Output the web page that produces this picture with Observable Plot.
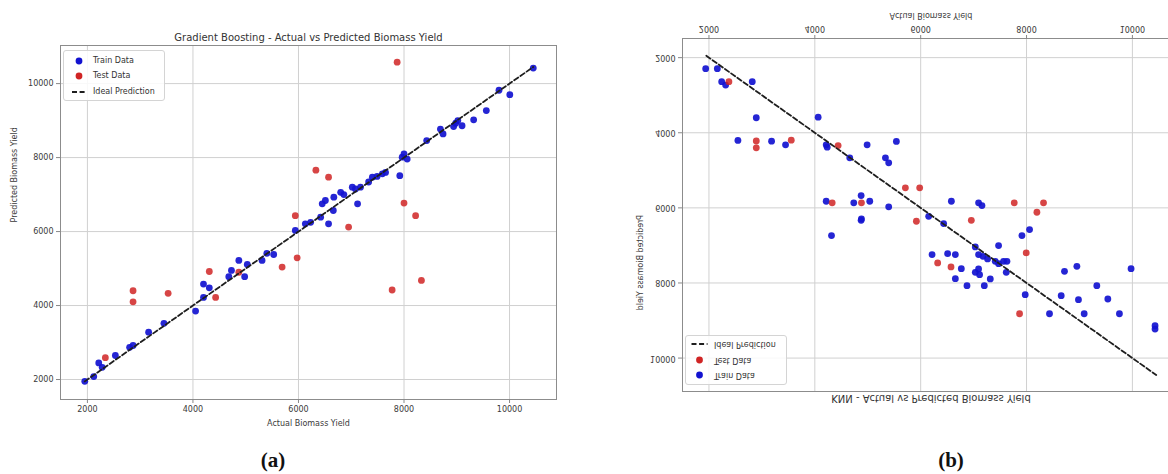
<!DOCTYPE html>
<html>
<head>
<meta charset="utf-8">
<script src="https://cdn.jsdelivr.net/npm/d3@7"></script>
<script src="https://cdn.jsdelivr.net/npm/@observablehq/plot@0.6"></script>
<style>
  body { margin: 0; background: #fff; }
  #page { position: relative; width: 1168px; height: 474px; overflow: hidden; background: #fff; font-family: "DejaVu Sans", sans-serif; }
  .panel { position: absolute; top: 0; }
  #panelA { left: 0; width: 580px; height: 440px; }
  #panelB { left: 600px; width: 600px; height: 420px; transform: scaleY(-1); transform-origin: 50% 50%; }
  .legend { position: absolute; box-sizing: border-box; border: 1px solid #d4d4d4; border-radius: 3px; background: rgba(255,255,255,0.85); font-size: 8px; color: #333; }
  .legend .row { position: absolute; left: 0; height: 10px; line-height: 10px; white-space: nowrap; }
  .legend .row svg { position: absolute; top: 0; left: 0; overflow: visible; }
  .legend .row span { position: absolute; top: 0; }
  .tag { position: absolute; font-family: "Liberation Serif", serif; font-weight: bold; font-size: 21px; color: #111; transform: translate(-50%, -50%); }
</style>
</head>
<body>
<div id="page">
  <div id="panelA" class="panel"></div>
  <div id="panelB" class="panel"></div>
  <div class="tag" style="left:273px; top:460px;">(a)</div>
  <div class="tag" style="left:951px; top:460px;">(b)</div>
</div>
<script>
// Shared axis ticks (biomass yield)
const tickValues = [2000, 4000, 6000, 8000, 10000];
// Range covered by the dashed y = x reference line
const idealRange = [1950, 10450];

// Gradient Boosting: [actual, predicted]
const gbTrain = [
  [1950,1950],[2120,2080],[2215,2450],[2280,2330],[2530,2650],[2800,2870],[2865,2920],
  [3160,3280],[3450,3520],[4050,3850],[4200,4220],[4200,4580],[4310,4480],[4680,4780],
  [4730,4950],[4870,5220],[4980,4780],[5030,5110],[5310,5220],[5400,5410],[5530,5380],
  [5940,6030],[6130,6210],[6230,6250],[6420,6390],[6570,6210],[6660,6570],[6450,6750],
  [6510,6840],[6670,6930],[6800,7060],[6860,7000],[7020,7200],[7080,7150],[7120,6750],
  [7175,7200],[7330,7340],[7400,7470],[7490,7490],[7590,7560],[7650,7600],[7920,7510],
  [7965,8010],[8000,8100],[8060,7960],[8430,8460],[8690,8770],[8740,8640],[8940,8840],
  [8980,8930],[9020,9000],[9100,8860],[9320,9020],[9560,9270],[9800,9820],[10005,9700],
  [10450,10420]
];
const gbTest = [
  [2340,2590],[2865,4400],[2865,4100],[3530,4330],[4310,4920],[4430,4220],[4870,4900],
  [5690,5040],[5975,5290],[5940,6430],[6950,6120],[6330,7660],[6570,7470],[7870,10580],
  [8000,6770],[8220,6430],[7775,4420],[8330,4680]
];

// KNN: [actual, predicted]
const knnTrain = [
  [1938,2293],[2158,2293],[2240,2640],[2315,2730],[2818,2640],[2894,3600],[2547,4205],
  [3183,4224],[3447,4320],[4063,3584],[4215,4320],[4234,4384],[4660,4667],[4988,4320],
  [5334,4667],[5396,4800],[5541,4232],[4215,5824],[4736,5867],[4875,5672],[5038,5824],
  [5396,5973],[4881,6293],[4315,6739],[4875,6331],[6580,5824],[7094,5867],[7158,5939],
  [6151,6224],[6434,6419],[6215,7245],[6509,7219],[6655,7245],[6768,7619],[6655,7885],
  [6875,8072],[7032,7040],[7094,7245],[7177,7291],[7032,7717],[7094,7627],[7113,7779],
  [7202,8072],[7315,7893],[7264,7360],[7409,7424],[7472,7005],[7472,7485],[7566,7424],
  [7630,7424],[7617,7717],[7913,6739],[8057,6579],[7975,8312],[8434,8819],[8655,8339],
  [8717,7691],[8951,7557],[8981,8445],[9089,8819],[9328,8072],[9536,8427],[9755,8819],
  [9975,7619],[10428,9139],[10428,9227]
];
const knnTest = [
  [2377,2640],[2894,4220],[2894,4400],[3555,4197],[4440,4340],[5711,5467],[4328,5867],
  [4881,5867],[5981,5467],[7768,5867],[8321,5867],[8196,6117],[5919,6357],[6957,6331],
  [6321,7467],[6573,7573],[7994,7200],[7868,8819]
];

const seriesLabels = ["Train Data", "Test Data", "Ideal Prediction"];
const TRAIN_COLOR = "#1212d0";
const TEST_COLOR = "#d02424";
const fmt = d => String(d);

function scatterPanel(o) {
  return Plot.plot({
    width: o.width, height: o.height,
    marginLeft: o.ml, marginRight: o.mr, marginTop: o.mt, marginBottom: o.mb,
    style: { fontFamily: "DejaVu Sans", fontSize: "8px", color: "#3a3a3a", background: "transparent", overflow: "visible" },
    x: { domain: o.xDomain },
    y: { domain: o.yDomain },
    marks: [
      Plot.gridX(tickValues, { stroke: "#d0d0d0", strokeOpacity: 1 }),
      Plot.gridY(tickValues, { stroke: "#d0d0d0", strokeOpacity: 1 }),
      Plot.frame({ stroke: "#8c8c8c" }),
      Plot.axisX(tickValues, { tickSize: 4, tickPadding: 3, tickFormat: fmt, label: null, stroke: "#888" }),
      Plot.axisY(tickValues, { tickSize: 4, tickPadding: 3, tickFormat: fmt, label: null, stroke: "#888" }),
      Plot.dot(o.train, { x: d => d[0], y: d => d[1], r: 3.4, fill: TRAIN_COLOR, fillOpacity: 0.92 }),
      Plot.dot(o.test, { x: d => d[0], y: d => d[1], r: 3.4, fill: TEST_COLOR, fillOpacity: 0.85 }),
      Plot.line(idealRange, { x: d => d, y: d => d, stroke: "#1e1e1e", strokeWidth: 1.8, strokeDasharray: "5,2.6" }),
      Plot.text([o.title], { text: d => d, frameAnchor: "top", dy: o.titleDy, fontSize: 10, fill: "#333" }),
      Plot.text([o.xLabel], { text: d => d, frameAnchor: "bottom", dy: o.xLabelDy, fontSize: 8, fill: "#3a3a3a" }),
      Plot.text([o.yLabel], { text: d => d, frameAnchor: "left", dx: o.yLabelDx, rotate: -90, fontSize: 8, fill: "#3a3a3a" })
    ]
  });
}

function legend(host, o) {
  const box = document.createElement("div");
  box.className = "legend";
  Object.assign(box.style, { left: o.left + "px", top: o.top + "px", width: o.width + "px", height: o.height + "px" });
  const kinds = ["train", "test", "ideal"];
  kinds.forEach((k, i) => {
    const row = document.createElement("div");
    row.className = "row";
    row.style.top = (o.rowY[i] - 5) + "px";
    row.style.width = o.width + "px";
    const ns = "http://www.w3.org/2000/svg";
    const svg = document.createElementNS(ns, "svg");
    svg.setAttribute("width", o.textX);
    svg.setAttribute("height", 10);
    if (k === "ideal") {
      const ln = document.createElementNS(ns, "line");
      ln.setAttribute("x1", o.handleX - o.handleHalf);
      ln.setAttribute("x2", o.handleX + o.handleHalf);
      ln.setAttribute("y1", 5); ln.setAttribute("y2", 5);
      ln.setAttribute("stroke", "#1e1e1e");
      ln.setAttribute("stroke-width", 1.8);
      ln.setAttribute("stroke-dasharray", "5,2.6");
      svg.appendChild(ln);
    } else {
      const c = document.createElementNS(ns, "circle");
      c.setAttribute("cx", o.handleX); c.setAttribute("cy", 5); c.setAttribute("r", 3.4);
      c.setAttribute("fill", k === "train" ? TRAIN_COLOR : TEST_COLOR);
      svg.appendChild(c);
    }
    row.appendChild(svg);
    const span = document.createElement("span");
    span.style.left = o.textX + "px";
    span.textContent = seriesLabels[i];
    row.appendChild(span);
    box.appendChild(row);
  });
  host.appendChild(box);
}

// (a) Gradient Boosting
const hostA = document.getElementById("panelA");
hostA.appendChild(scatterPanel({
  width: 580, height: 440, ml: 60, mr: 24, mt: 45, mb: 41,
  xDomain: [1490, 10890], yDomain: [1460, 11030],
  train: gbTrain, test: gbTest,
  title: "Gradient Boosting - Actual vs Predicted Biomass Yield",
  xLabel: "Actual Biomass Yield", yLabel: "Predicted Biomass Yield",
  titleDy: -12, xLabelDy: 26, yLabelDx: -46
}));
legend(hostA, { left: 63, top: 50, width: 102, height: 51, rowY: [10, 24.5, 40.5], handleX: 15, handleHalf: 7, textX: 29 });

// (b) KNN — drawn upright, the panel container is mirrored vertically
const hostB = document.getElementById("panelB");
hostB.appendChild(scatterPanel({
  width: 600, height: 420, ml: 82, mr: 21, mt: 28, mb: 39,
  xDomain: [1500, 10890], yDomain: [1490, 10890],
  train: knnTrain, test: knnTest,
  title: "KNN - Actual vs Predicted Biomass Yield",
  xLabel: "Actual Biomass Yield", yLabel: "Predicted Biomass Yield",
  titleDy: -11, xLabelDy: 25.5, yLabelDx: -42
}));
legend(hostB, { left: 85, top: 35, width: 102, height: 50, rowY: [8.5, 23.5, 40], handleX: 13.5, handleHalf: 8, textX: 28 });
</script>
</body>
</html>
